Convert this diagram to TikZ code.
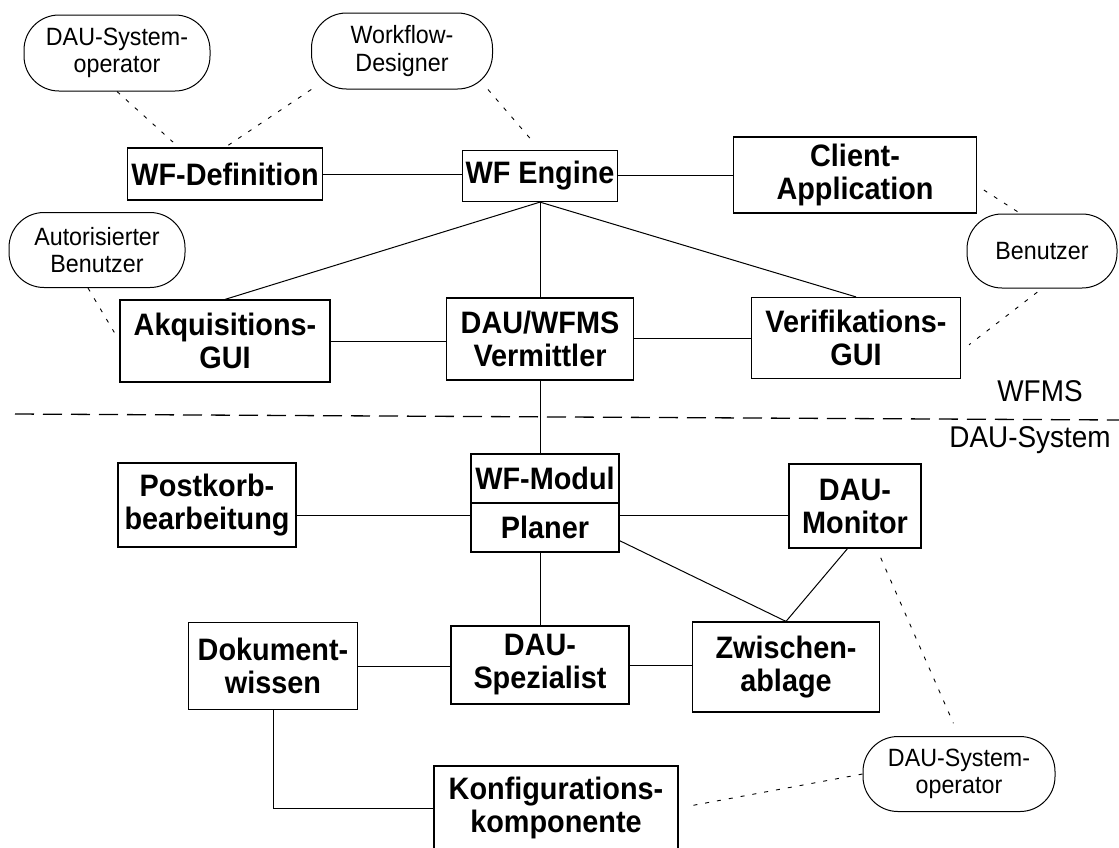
\documentclass[tikz,border=0pt]{standalone}
\usepackage{fontspec}
\setmainfont[FakeStretch=0.93]{Liberation Sans}

\tikzset{box/.style={draw, line width=1.2pt, rectangle, align=center, inner sep=0pt,
                     font=\fontsize{31}{33}\selectfont\bfseries},
         actor/.style={draw, line width=1pt, rectangle, rounded corners=35pt, align=center,
                       inner sep=0pt, font=\fontsize{25}{27.5}\selectfont},
         link/.style={line width=1pt},
         dotlink/.style={line width=0.9pt, dash pattern=on 4pt off 8pt},
         border/.style={line width=1.3pt, dash pattern=on 19pt off 9pt},
         region/.style={font=\fontsize{30}{32}\selectfont}}

\begin{document}
\begin{tikzpicture}[x=1pt, y=-1pt]
        \useasboundingbox (0,0) rectangle (1119,847);
        % Actors
        \node[actor, minimum width=186pt, minimum height=76pt] (sysopA) at (117,53) {DAU-System-\\operator};
        \node[actor, minimum width=181pt, minimum height=76pt] (designer) at (402,51) {Workflow-\\Designer};
        \node[actor, minimum width=176pt, minimum height=75pt] (autor) at (97,250) {Autorisierter\\Benutzer};
        \node[actor, minimum width=150pt, minimum height=74pt] (benutzer) at (1042,251) {Benutzer};
        \node[actor, minimum width=192pt, minimum height=75pt] (sysopB) at (959,774) {DAU-System-\\operator};
        
        % WFMS components
        \node[box, minimum width=195pt, minimum height=52pt] (wfdef) at (225,174) {WF-Definition};
        \node[box, minimum width=155pt, minimum height=51pt] (engine) at (540,176) {WF Engine};
        \node[box, minimum width=243pt, minimum height=76pt] (client) at (855,175) {Client-\\Application};
        \node[box, minimum width=210pt, minimum height=82pt] (akq) at (225,341) {Akquisitions-\\GUI};
        \node[box, minimum width=187pt, minimum height=82pt] (verm) at (540,339) {DAU/WFMS\\Vermittler};
        \node[box, minimum width=209pt, minimum height=81pt] (verif) at (856,338) {Verifikations-\\GUI};
        
        % DAU-System components
        \node[box, minimum width=178pt, minimum height=84pt] (postkorb) at (207,505) {Postkorb-\\bearbeitung};
        \node[box, minimum width=148pt, minimum height=49pt] (modul) at (545,478.5) {WF-Modul};
        \node[box, minimum width=148pt, minimum height=49pt] (planer) at (545,527.5) {Planer};
        \node[box, minimum width=132pt, minimum height=84pt] (monitor) at (855,506) {DAU-\\Monitor};
        \node[box, minimum width=169pt, minimum height=87pt] (dok) at (273,666) {Dokument-\\wissen};
        \node[box, minimum width=178pt, minimum height=78pt] (spez) at (540,665) {DAU-\\Spezialist};
        \node[box, minimum width=187pt, minimum height=90pt] (zwischen) at (786,667) {Zwischen-\\ablage};
        \node[box, minimum width=244pt, minimum height=84pt] (konfig) at (556,808) {Konfigurations-\\komponente};
        
        % Boundary
        \coordinate (sepL) at (15,414);
        \coordinate (sepR) at (1119,420);
        \draw[border] (sepL) -- (sepR);
        \node[region] (wfms) at (1040,391) {WFMS};
        \node[region] (dausys) at (1030,440) {DAU-System};
        
        % Edges
        \draw[link] (wfdef.east) -- (wfdef.east -| engine.west);
        \draw[link] (client.west) -- (client.west -| engine.east);
        \draw[link] (engine.south) -- (akq.north);
        \draw[link] (engine.south) -- (verm.north);
        \draw[link] (engine.south) -- (verif.north);
        \draw[link] (akq.east) -- (akq.east -| verm.west);
        \draw[link] (verif.west) -- (verif.west -| verm.east);
        \draw[link] (verm.south) -- (verm.south |- modul.north);
        \draw[link] ([yshift=-10pt]postkorb.east) -- ([yshift=-10pt]postkorb.east -| planer.west);
        \draw[link] ([yshift=-9pt]monitor.west) -- ([yshift=-9pt]monitor.west -| planer.east);
        \draw[link] (spez.north) -- (spez.north |- planer.south);
        \draw[link] (planer.-10) -- (zwischen.north);
        \draw[link] (monitor.-100) -- (zwischen.north);
        \draw[link] (dok.east) -- (dok.east -| spez.west);
        \draw[link] (spez.east) -- (spez.east -| zwischen.west);
        \draw[link] (dok.south) |- (konfig.west);
        
        % Actor links
        \draw[dotlink, shorten >=8pt] (sysopA.south) -- (wfdef.150.8);
        \draw[dotlink, shorten >=4pt] (designer.203) -- (wfdef.north);
        \draw[dotlink, shorten >=8pt] ([xshift=-5pt]designer.south east) -- (engine.north);
        \draw[dotlink, shorten <=8pt] (client.-5) -- (benutzer.120);
        \draw[dotlink, shorten <=6pt, shorten >=10pt] (benutzer.south) -- (verif.-7);
        \draw[dotlink, shorten >=10pt] ([xshift=-9pt]autor.south) -- (akq.west);
        \draw[dotlink, shorten <=10pt, shorten >=14pt] (monitor.-63) -- (sysopB.north);
        \draw[dotlink, shorten >=12pt] (sysopB.west) -- (konfig.east);
    \end{tikzpicture}
\end{document}
